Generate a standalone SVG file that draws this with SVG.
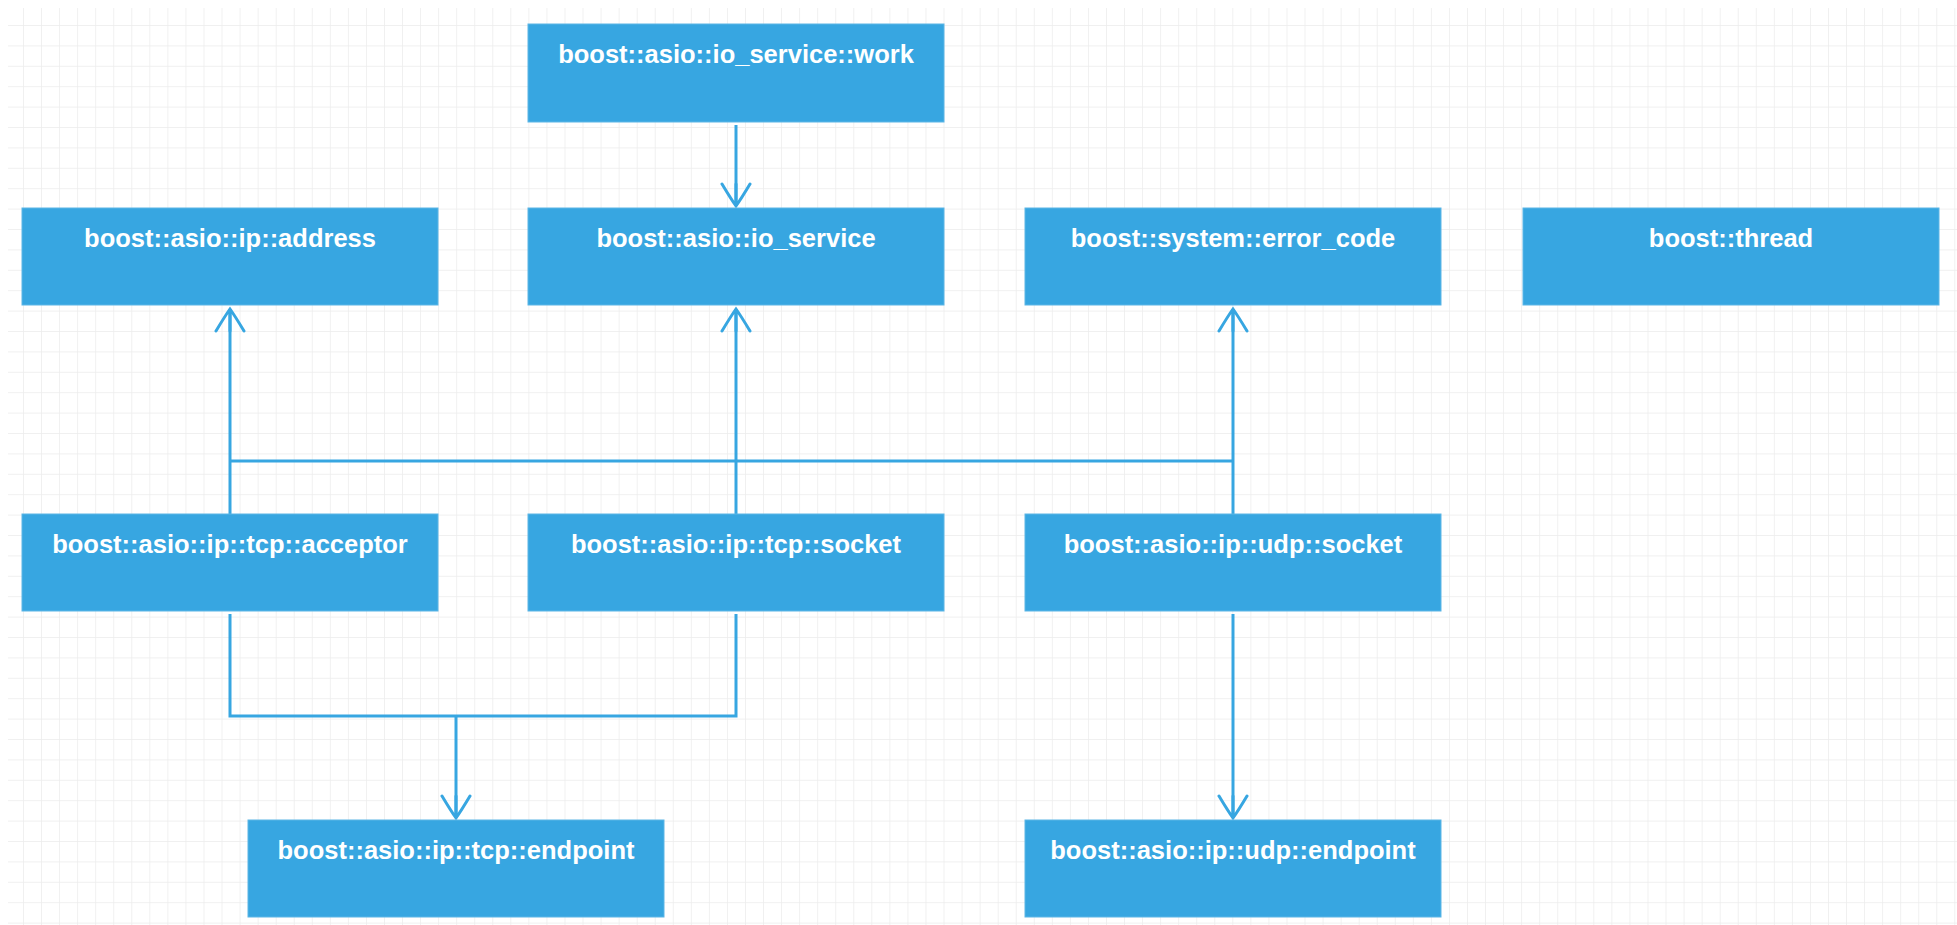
<svg xmlns="http://www.w3.org/2000/svg" width="1957" height="925" viewBox="0 0 1957 925">
<style>
.box{fill:#37a6e1;stroke:#5cb6e6;stroke-width:1}
.lbl{fill:#ffffff;font-family:"Liberation Sans",Arial,sans-serif;font-weight:bold;font-size:25.5px;text-anchor:middle}
.conn{fill:none;stroke:#37a6e1;stroke-width:3}
</style>
<defs>
<pattern id="grid" patternUnits="userSpaceOnUse" x="23" y="25" width="18.05" height="20.4">
<path d="M0,0 V20.4 M0,0 H18.05" fill="none" stroke="#ececec" stroke-width="1.5"/>
</pattern>
<marker id="arr" markerUnits="userSpaceOnUse" viewBox="-26 -16 30 32" refX="0" refY="0" markerWidth="30" markerHeight="32" orient="auto">
<path d="M-22,-14 Q-7,-5 0,0 Q-7,5 -22,14 M-22,0 H0" fill="none" stroke="#37a6e1" stroke-width="3" stroke-linecap="round"/>
</marker>
</defs>
<rect x="0" y="0" width="1957" height="925" fill="#ffffff"/>
<rect x="8" y="8" width="1949" height="917" fill="url(#grid)"/>
<g id="connectors">
<path class="conn" d="M736,125 V206" marker-end="url(#arr)"/>
<path class="conn" d="M230,514 V309" marker-end="url(#arr)"/>
<path class="conn" d="M736,514 V309" marker-end="url(#arr)"/>
<path class="conn" d="M1233,514 V309" marker-end="url(#arr)"/>
<path class="conn" d="M230,461 H1233"/>
<path class="conn" d="M230,614 V716 H736 V614"/>
<path class="conn" d="M456,716 V818" marker-end="url(#arr)"/>
<path class="conn" d="M1233,614 V818" marker-end="url(#arr)"/>
</g>
<g id="work"><rect class="box" x="528" y="24" width="416" height="98"/><text class="lbl" x="736" y="63">boost::asio::io_service::work</text></g>
<g id="io_service"><rect class="box" x="528" y="208" width="416" height="97"/><text class="lbl" x="736" y="247">boost::asio::io_service</text></g>
<g id="address"><rect class="box" x="22" y="208" width="416" height="97"/><text class="lbl" x="230" y="247">boost::asio::ip::address</text></g>
<g id="error_code"><rect class="box" x="1025" y="208" width="416" height="97"/><text class="lbl" x="1233" y="247">boost::system::error_code</text></g>
<g id="thread"><rect class="box" x="1523" y="208" width="416" height="97"/><text class="lbl" x="1731" y="247">boost::thread</text></g>
<g id="acceptor"><rect class="box" x="22" y="514" width="416" height="97"/><text class="lbl" x="230" y="553">boost::asio::ip::tcp::acceptor</text></g>
<g id="tcp_socket"><rect class="box" x="528" y="514" width="416" height="97"/><text class="lbl" x="736" y="553">boost::asio::ip::tcp::socket</text></g>
<g id="udp_socket"><rect class="box" x="1025" y="514" width="416" height="97"/><text class="lbl" x="1233" y="553">boost::asio::ip::udp::socket</text></g>
<g id="tcp_endpoint"><rect class="box" x="248" y="820" width="416" height="97"/><text class="lbl" x="456" y="859">boost::asio::ip::tcp::endpoint</text></g>
<g id="udp_endpoint"><rect class="box" x="1025" y="820" width="416" height="97"/><text class="lbl" x="1233" y="859">boost::asio::ip::udp::endpoint</text></g>
</svg>
